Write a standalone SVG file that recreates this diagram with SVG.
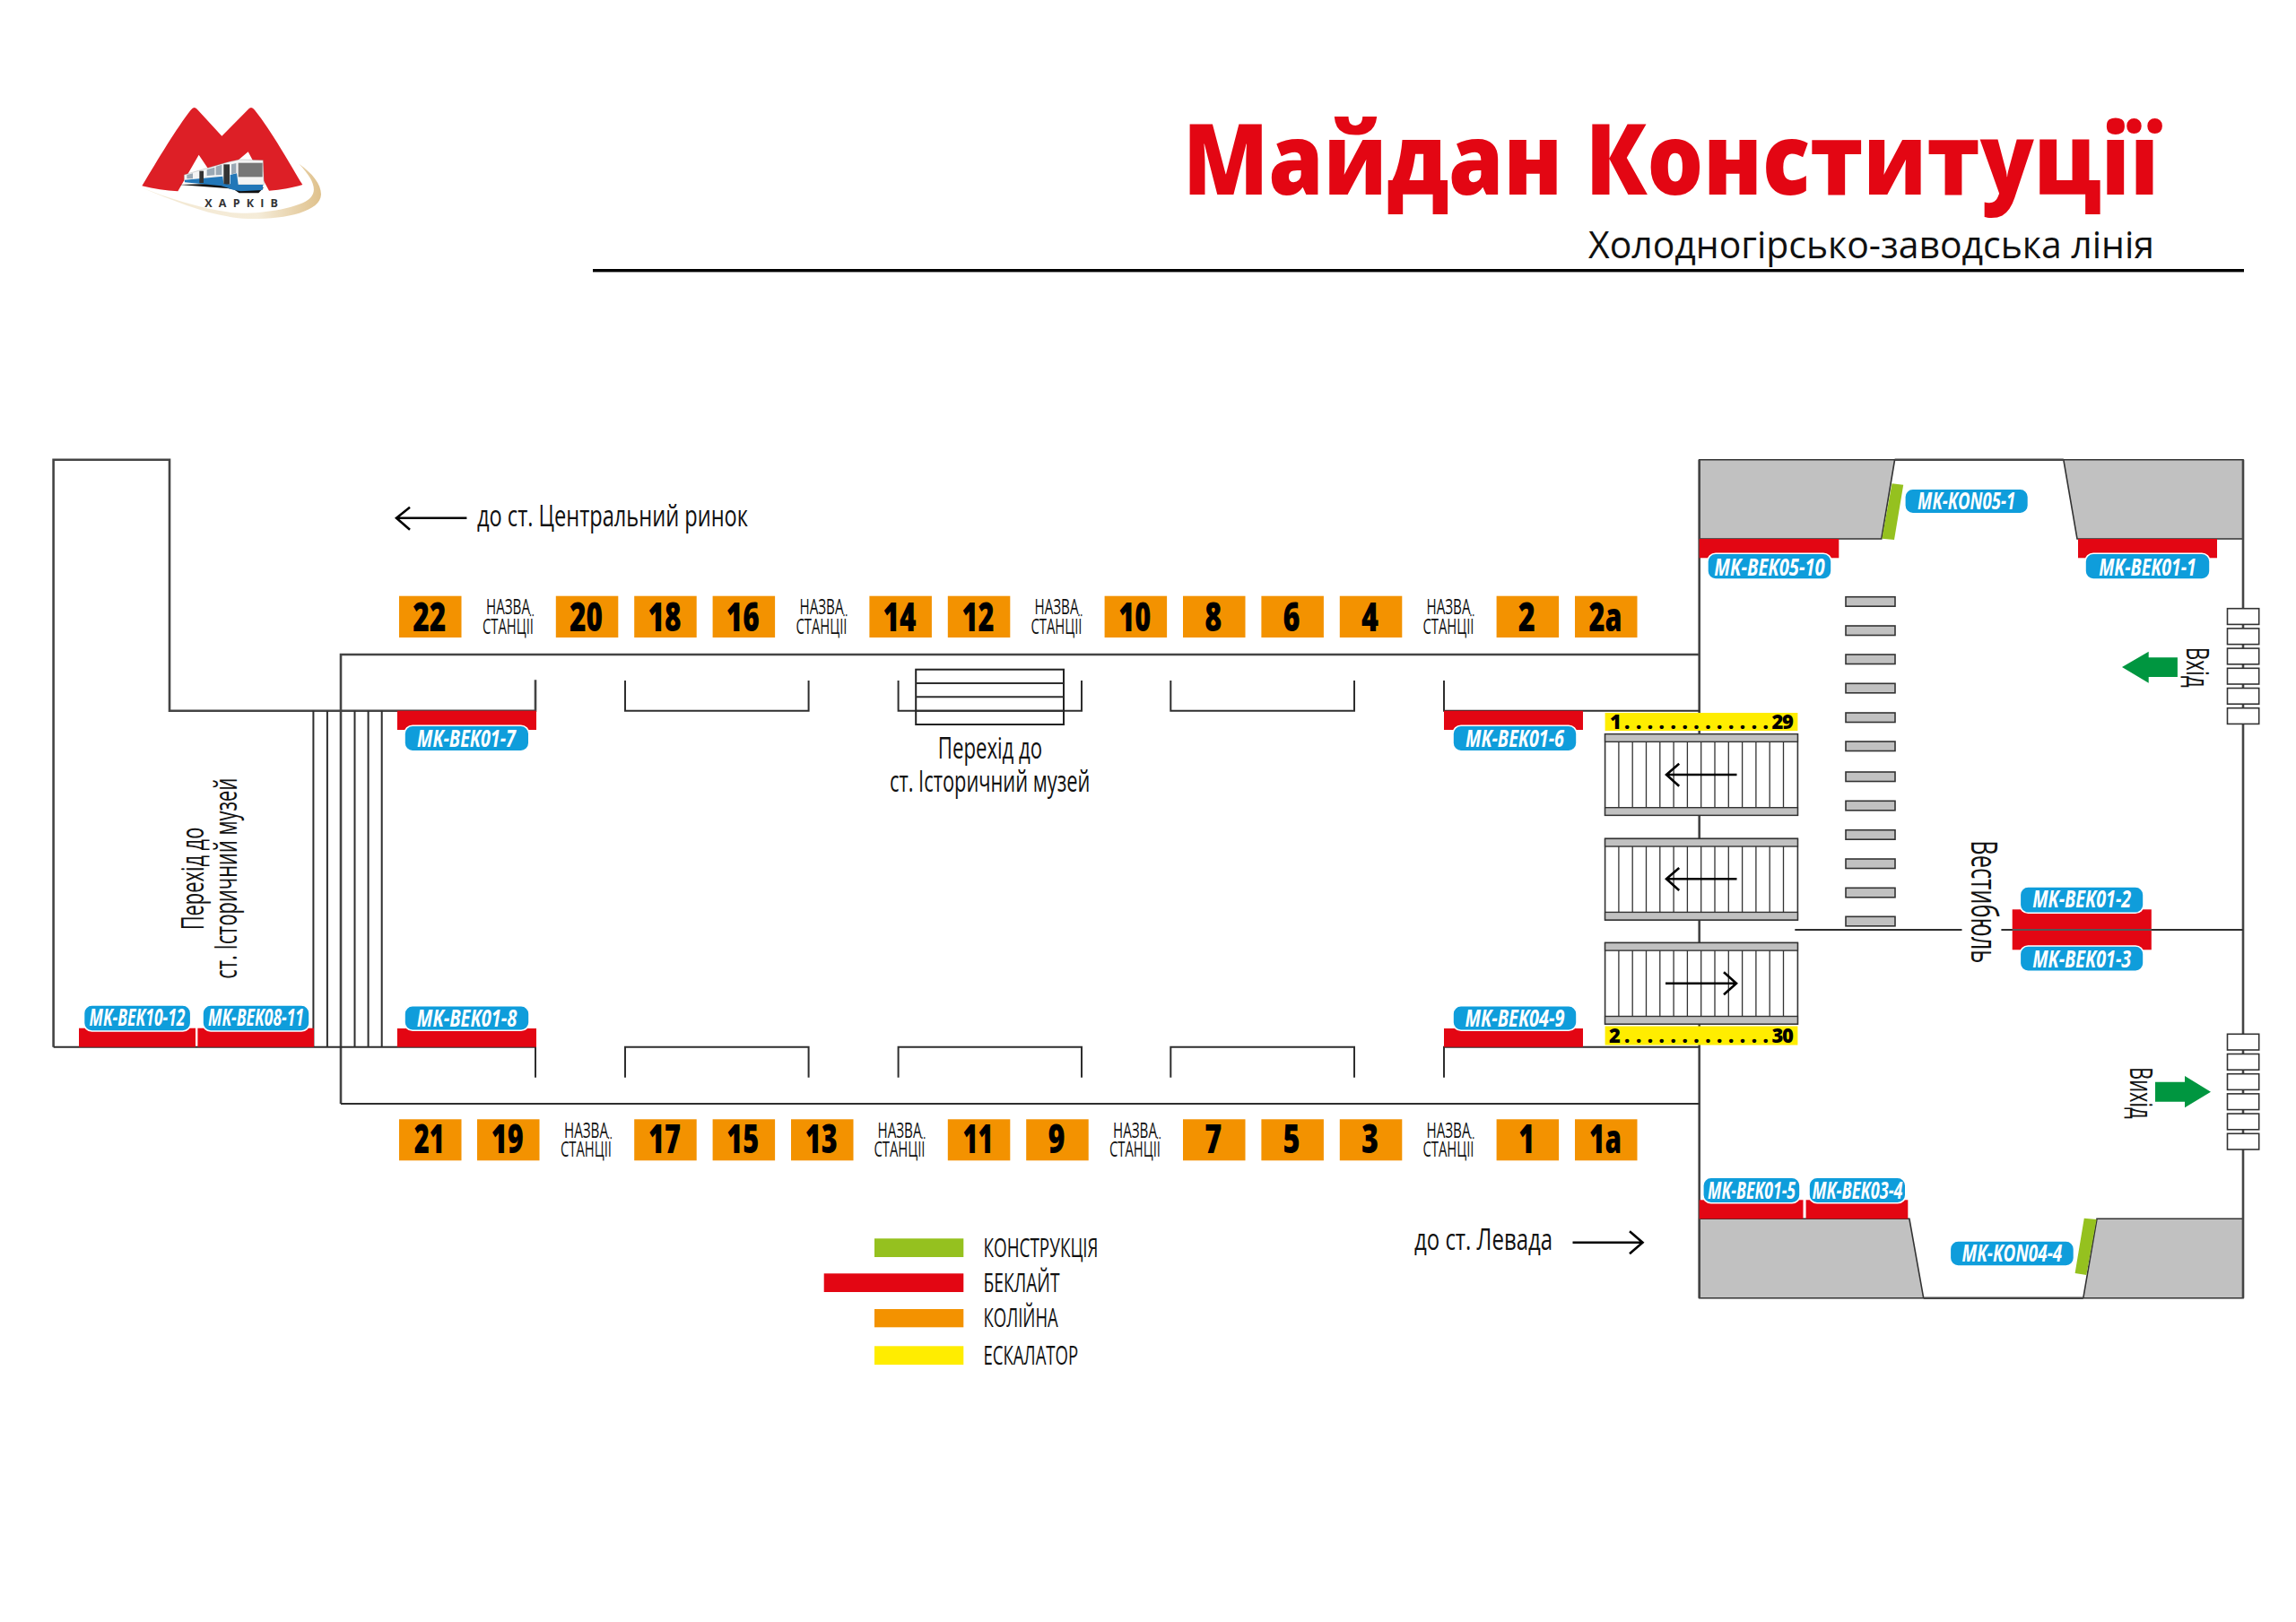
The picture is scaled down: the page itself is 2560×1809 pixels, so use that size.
<svg xmlns="http://www.w3.org/2000/svg" width="2560" height="1809" viewBox="0 0 2560 1809">
<style>
text{font-family:"Open Sans","Noto Sans","Liberation Sans",sans-serif;fill:#111}
.n{font-size:44px;font-weight:800;text-anchor:middle;fill:#000}
.s{font-size:23px;text-anchor:middle}
.b{font-size:26px;font-weight:700;font-style:italic;fill:#fff;text-anchor:middle}
.t{font-size:33px}
.v{font-size:35px}
.l{font-size:29px}
.e{font-size:22px;font-weight:800;fill:#000}
.w{fill:none;stroke:#2e2e2e;stroke-width:2}
.w2{fill:none;stroke:#444;stroke-width:2.6}
.a{fill:none;stroke:#000;stroke-width:2.6}
.o{fill:#f39200}.r{fill:#e30613}.y{fill:#ffed00}.g{fill:#95c11f}.ga{fill:#009640}
.gb{fill:#c1c1c1;stroke:#333;stroke-width:1.6}
.bd{fill:#0f9ddb;stroke:#fff;stroke-width:1.6}
.d{fill:#fff;stroke:#333;stroke-width:1.6}
</style>
<defs>
<linearGradient id="sw" x1="0" y1="0" x2="1" y2="0"><stop offset="0" stop-color="#f3e8d2"/><stop offset=".65" stop-color="#f5ecd9"/><stop offset="1" stop-color="#dfc18c"/></linearGradient>
<g id="esc">
<rect width="214.8" height="90.6" fill="#fff" stroke="#333" stroke-width="1.6"/>
<rect width="214.8" height="8.6" fill="#c1c1c1" stroke="#333" stroke-width="1.4"/>
<rect y="82" width="214.8" height="8.6" fill="#c1c1c1" stroke="#333" stroke-width="1.4"/>
<path d="M15.3 8.6V82M30.6 8.6V82M45.9 8.6V82M61.2 8.6V82M76.5 8.6V82M91.8 8.6V82M107.1 8.6V82M122.4 8.6V82M137.7 8.6V82M153 8.6V82M168.3 8.6V82M183.6 8.6V82M198.9 8.6V82" fill="none" stroke="#333" stroke-width="1.3"/>
</g>
<g id="doors">
<rect width="35.2" height="17.7" class="d"/><rect y="22.2" width="35.2" height="17.7" class="d"/><rect y="44.4" width="35.2" height="17.7" class="d"/><rect y="66.6" width="35.2" height="17.7" class="d"/><rect y="88.8" width="35.2" height="17.7" class="d"/><rect y="111" width="35.2" height="17.7" class="d"/>
</g>
<rect id="bar" width="55" height="10.5" class="gb"/>
</defs>
<rect width="2560" height="1809" fill="#fff"/>

<g id="logo">
<g transform="translate(100 80) scale(.33333)">
<path d="M170 386C300 440 420 488 530 492C650 494 772 470 774 410C774 375 745 340 700 308C745 355 764 395 738 422C700 460 550 478 480 472C380 460 260 422 170 386Z" fill="url(#sw)"/>
<path d="M175 382C230 290 290 190 338 128Q350 112 362 128L442 215L528 128Q540 112 552 128C610 200 670 310 712 378C680 388 640 395 600 398L530 268L480 310L400 330L365 278L295 400C255 398 215 392 175 382Z" fill="#dd1f26"/>
<path d="M298 378L480 392L500 406L565 406L582 388L500 372Z" fill="#111"/>
<path d="M316 345L460 303L500 294L580 296L583 378L497 378L316 366Z" fill="#f4f4f4" stroke="#888" stroke-width="1"/>
<path d="M318 362L445 350L448 375L470 378V345L492 340L497 378L580 378L578 396L505 400L480 395L440 382L318 370Z" fill="#2277b8"/>
<rect x="497" y="305" width="81" height="47" fill="#777"/>
<path d="M325 345L345 340V358L325 358ZM392 327L418 320V346L392 348ZM422 317L442 311V345L422 346ZM474 310L490 306V340L474 343Z" fill="#9aa8b4"/>
<rect x="448" y="310" width="20" height="65" fill="#333"/>
<rect x="367" y="332" width="14" height="40" fill="#333"/>
</g>
<text x="228.3" y="231" font-size="12.5" font-weight="700" textLength="81.7" style="fill:#333">ХАРКІВ</text>
</g>

<g id="title">
<text x="1319" y="216.7" font-size="110" font-weight="800" textLength="1088" lengthAdjust="spacingAndGlyphs" style="fill:#e30613">Майдан Конституції</text>
<text x="1771" y="288" font-size="42" textLength="631" lengthAdjust="spacingAndGlyphs">Холодногірсько-заводська лінія</text>
<rect x="661" y="300" width="1841" height="3.4" fill="#000"/>
</g>

<g id="vestibule-blocks">
<path class="gb" d="M1894.7 512.7H2112.6L2097.8 601H1894.7Z"/>
<path class="gb" d="M2300.8 512.7H2501V601H2316Z"/>
<path class="gb" d="M1894.7 1359.3H2128.9L2144.7 1447.7H1894.7Z"/>
<path class="gb" d="M2338 1359.3H2501V1447.7H2322.8Z"/>
</g>

<g id="connectors">
<path class="w2" d="M2112.6 512.7H2300.8M2144.7 1447.7H2322.8M1894.7 512.7V1447.7M2501 512.7V1447.7"/>
<path class="w2" d="M59.6 1167.7V512.7H189V792.7H597V758.3"/>
<path class="w2" d="M380 1231V730H1894.7"/>
<path class="w" d="M380 1231H1894.7"/>
<path class="w" d="M59.6 1167.7H597V1201.7"/>
<path class="w" d="M349.4 792.7V1167.7M364.9 792.7V1167.7M395.5 792.7V1167.7M410.6 792.7V1167.7M425.7 792.7V1167.7"/>
<path class="w" d="M697 759V792.7H901.6V759M1001.6 759V792.7H1206V759M1305.3 759V792.7H1510V759M1610 759V792.7H1894.7"/>
<path class="w" d="M697 1201.7V1167.7H901.6V1201.7M1001.6 1201.7V1167.7H1206V1201.7M1305.3 1201.7V1167.7H1510V1201.7M1610 1201.7V1167.7H1894.7"/>
<path class="w" d="M2001.3 1037H2187.5M2231.4 1037H2501"/>
</g>

<g id="bridge">
<rect x="1021.2" y="746.7" width="164.8" height="61.3" fill="none" stroke="#222" stroke-width="2"/>
<path class="w" d="M1021.2 762H1186M1021.2 777.3H1186M1021.2 792.7H1186"/>
</g>

<g id="stairs"><use href="#bar" x="2058" y="665.7"/><use href="#bar" x="2058" y="698"/><use href="#bar" x="2058" y="730"/><use href="#bar" x="2058" y="762.3"/><use href="#bar" x="2058" y="795"/><use href="#bar" x="2058" y="827"/><use href="#bar" x="2058" y="861"/><use href="#bar" x="2058" y="893.3"/><use href="#bar" x="2058" y="925.7"/><use href="#bar" x="2058" y="958"/><use href="#bar" x="2058" y="990.3"/><use href="#bar" x="2058" y="1022.3"/></g>

<g id="escalators">
<use href="#esc" x="1789.6" y="818.7"/>
<use href="#esc" x="1789.6" y="935.4"/>
<use href="#esc" x="1789.6" y="1051.5"/>
<path class="a" d="M1936.5 864H1858M1872.2 851.7L1858 864L1872.2 876.7"/>
<path class="a" d="M1936.5 980.3H1858M1872.2 968L1858 980.3L1872.2 993"/>
<path class="a" d="M1857 1096.7H1936M1922 1084.3L1936 1096.7L1922 1109.3"/>
<rect class="y" x="1789.6" y="795" width="214.8" height="20"/>
<rect class="y" x="1789.6" y="1144.5" width="214.8" height="21"/>
<text class="e" y="812.7" x="1795 1811 1823.9 1836.8 1849.6 1862.5 1875.4 1888.3 1901.2 1914 1926.9 1939.8 1952.7 1965.6 1975.5 1987">1.............29</text>
<text class="e" y="1162.7" x="1794 1811 1823.9 1836.8 1849.6 1862.5 1875.4 1888.3 1901.2 1914 1926.9 1939.8 1952.7 1965.6 1975.5 1987">2.............30</text>
</g>

<g id="doors-in"><use href="#doors" x="2483.5" y="678.7"/></g>
<g id="doors-out"><use href="#doors" x="2483.5" y="1153.3"/></g>

<g id="arrow-in"><path class="ga" d="M2366 744L2395.7 726.7V733.3H2427.9V755H2395.7V761.7Z"/><text transform="translate(2437.5 721.7) rotate(90)" font-size="35" textLength="45" lengthAdjust="spacingAndGlyphs">Вхід</text></g>
<g id="arrow-out"><path class="ga" d="M2465 1217.7L2436 1200V1206.7H2403V1228.7H2436V1235.3Z"/><text transform="translate(2375 1190) rotate(90)" font-size="35" textLength="57.7" lengthAdjust="spacingAndGlyphs">Вихід</text></g>

<text id="vestibule-label" transform="translate(2198 937.3) rotate(90)" font-size="41" textLength="137" lengthAdjust="spacingAndGlyphs">Вестибюль</text>

<g id="dir-left"><path class="a" d="M520.4 577.7H442M457 565.7L442 577.7L457 590.7"/><text class="t" x="532" y="587" textLength="302" lengthAdjust="spacingAndGlyphs">до ст. Центральний ринок</text></g>
<g id="dir-right"><text class="t" x="1577" y="1394" textLength="154" lengthAdjust="spacingAndGlyphs">до ст. Левада</text><path class="a" d="M1753.5 1385.7H1831.5M1817 1373.3L1831.5 1385.7L1817 1398.3"/></g>

<g id="passage-h"><text class="t" x="1104" y="846" text-anchor="middle" textLength="116.4" lengthAdjust="spacingAndGlyphs">Перехід до</text><text class="t" x="1103.7" y="882.7" text-anchor="middle" textLength="223.5" lengthAdjust="spacingAndGlyphs">ст. Історичний музей</text></g>
<g id="passage-v"><text class="v" transform="translate(227 1037.3) rotate(-90)" textLength="114.6" lengthAdjust="spacingAndGlyphs">Перехід до</text><text class="v" transform="translate(263.7 1091.7) rotate(-90)" textLength="224" lengthAdjust="spacingAndGlyphs">ст. Історичний музей</text></g>

<g id="track-top">
<g id="t22"><rect class="o" x="445" y="664.7" width="69.5" height="46.3"/><text class="n" x="478.7" y="704" textLength="37" lengthAdjust="spacingAndGlyphs">22</text></g>
<g id="ts1"><text class="s" x="566.5" y="685" textLength="49" lengthAdjust="spacingAndGlyphs">НАЗВА</text><text class="s" x="566.5" y="706.7" textLength="57" lengthAdjust="spacingAndGlyphs">СТАНЦІЇ</text></g>
<g id="t20"><rect class="o" x="619.8" y="664.7" width="69.5" height="46.3"/><text class="n" x="653.5" y="704" textLength="37" lengthAdjust="spacingAndGlyphs">20</text></g>
<g id="t18"><rect class="o" x="707.2" y="664.7" width="69.5" height="46.3"/><text class="n" x="741" y="704" textLength="37" lengthAdjust="spacingAndGlyphs">18</text></g>
<g id="t16"><rect class="o" x="794.6" y="664.7" width="69.5" height="46.3"/><text class="n" x="828.3" y="704" textLength="37" lengthAdjust="spacingAndGlyphs">16</text></g>
<g id="ts2"><text class="s" x="916" y="685" textLength="49" lengthAdjust="spacingAndGlyphs">НАЗВА</text><text class="s" x="916" y="706.7" textLength="57" lengthAdjust="spacingAndGlyphs">СТАНЦІЇ</text></g>
<g id="t14"><rect class="o" x="969.4" y="664.7" width="69.5" height="46.3"/><text class="n" x="1003" y="704" textLength="37" lengthAdjust="spacingAndGlyphs">14</text></g>
<g id="t12"><rect class="o" x="1056.8" y="664.7" width="69.5" height="46.3"/><text class="n" x="1090.5" y="704" textLength="36" lengthAdjust="spacingAndGlyphs">12</text></g>
<g id="ts3"><text class="s" x="1178" y="685" textLength="49" lengthAdjust="spacingAndGlyphs">НАЗВА</text><text class="s" x="1178" y="706.7" textLength="57" lengthAdjust="spacingAndGlyphs">СТАНЦІЇ</text></g>
<g id="t10"><rect class="o" x="1231.6" y="664.7" width="69.5" height="46.3"/><text class="n" x="1265.3" y="704" textLength="36" lengthAdjust="spacingAndGlyphs">10</text></g>
<g id="t8"><rect class="o" x="1319" y="664.7" width="69.5" height="46.3"/><text class="n" x="1352.7" y="704" textLength="19" lengthAdjust="spacingAndGlyphs">8</text></g>
<g id="t6"><rect class="o" x="1406.4" y="664.7" width="69.5" height="46.3"/><text class="n" x="1440" y="704" textLength="19" lengthAdjust="spacingAndGlyphs">6</text></g>
<g id="t4"><rect class="o" x="1493.8" y="664.7" width="69.5" height="46.3"/><text class="n" x="1527.5" y="704" textLength="19" lengthAdjust="spacingAndGlyphs">4</text></g>
<g id="ts4"><text class="s" x="1615" y="685" textLength="49" lengthAdjust="spacingAndGlyphs">НАЗВА</text><text class="s" x="1615" y="706.7" textLength="57" lengthAdjust="spacingAndGlyphs">СТАНЦІЇ</text></g>
<g id="t2"><rect class="o" x="1668.6" y="664.7" width="69.5" height="46.3"/><text class="n" x="1702.3" y="704" textLength="19" lengthAdjust="spacingAndGlyphs">2</text></g>
<g id="t2a"><rect class="o" x="1756" y="664.7" width="69.5" height="46.3"/><text class="n" x="1790" y="704" textLength="37" lengthAdjust="spacingAndGlyphs">2а</text></g>
</g>

<g id="track-bottom">
<g id="t21"><rect class="o" x="445" y="1248.3" width="69.5" height="46"/><text class="n" x="478.7" y="1286" textLength="34" lengthAdjust="spacingAndGlyphs">21</text></g>
<g id="t19"><rect class="o" x="532" y="1248.3" width="69.5" height="46"/><text class="n" x="565.7" y="1286" textLength="36" lengthAdjust="spacingAndGlyphs">19</text></g>
<g id="bs1"><text class="s" x="653.5" y="1268.5" textLength="49" lengthAdjust="spacingAndGlyphs">НАЗВА</text><text class="s" x="653.5" y="1290" textLength="57" lengthAdjust="spacingAndGlyphs">СТАНЦІЇ</text></g>
<g id="t17"><rect class="o" x="707.2" y="1248.3" width="69.5" height="46"/><text class="n" x="741" y="1286" textLength="36" lengthAdjust="spacingAndGlyphs">17</text></g>
<g id="t15"><rect class="o" x="794.6" y="1248.3" width="69.5" height="46"/><text class="n" x="828.3" y="1286" textLength="36" lengthAdjust="spacingAndGlyphs">15</text></g>
<g id="t13"><rect class="o" x="882" y="1248.3" width="69.5" height="46"/><text class="n" x="915.7" y="1286" textLength="36" lengthAdjust="spacingAndGlyphs">13</text></g>
<g id="bs2"><text class="s" x="1003" y="1268.5" textLength="49" lengthAdjust="spacingAndGlyphs">НАЗВА</text><text class="s" x="1003" y="1290" textLength="57" lengthAdjust="spacingAndGlyphs">СТАНЦІЇ</text></g>
<g id="t11"><rect class="o" x="1056.8" y="1248.3" width="69.5" height="46"/><text class="n" x="1090.5" y="1286" textLength="34" lengthAdjust="spacingAndGlyphs">11</text></g>
<g id="t9"><rect class="o" x="1144.2" y="1248.3" width="69.5" height="46"/><text class="n" x="1178" y="1286" textLength="19" lengthAdjust="spacingAndGlyphs">9</text></g>
<g id="bs3"><text class="s" x="1265.5" y="1268.5" textLength="49" lengthAdjust="spacingAndGlyphs">НАЗВА</text><text class="s" x="1265.5" y="1290" textLength="57" lengthAdjust="spacingAndGlyphs">СТАНЦІЇ</text></g>
<g id="t7"><rect class="o" x="1319" y="1248.3" width="69.5" height="46"/><text class="n" x="1352.7" y="1286" textLength="19" lengthAdjust="spacingAndGlyphs">7</text></g>
<g id="t5"><rect class="o" x="1406.4" y="1248.3" width="69.5" height="46"/><text class="n" x="1440" y="1286" textLength="19" lengthAdjust="spacingAndGlyphs">5</text></g>
<g id="t3"><rect class="o" x="1493.8" y="1248.3" width="69.5" height="46"/><text class="n" x="1527.5" y="1286" textLength="19" lengthAdjust="spacingAndGlyphs">3</text></g>
<g id="bs4"><text class="s" x="1615" y="1268.5" textLength="49" lengthAdjust="spacingAndGlyphs">НАЗВА</text><text class="s" x="1615" y="1290" textLength="57" lengthAdjust="spacingAndGlyphs">СТАНЦІЇ</text></g>
<g id="t1"><rect class="o" x="1668.6" y="1248.3" width="69.5" height="46"/><text class="n" x="1702.3" y="1286" textLength="18" lengthAdjust="spacingAndGlyphs">1</text></g>
<g id="t1a"><rect class="o" x="1756" y="1248.3" width="69.5" height="46"/><text class="n" x="1790" y="1286" textLength="36" lengthAdjust="spacingAndGlyphs">1а</text></g>
</g>

<g id="MK-KON05-1"><path class="g" d="M2109.5 539.3L2122.2 540.7L2112 602L2098.3 600.7Z"/><rect class="bd" x="2123.8" y="545.3" width="137.7" height="27.5" rx="9"/><text class="b" x="2192.6" y="568.3" textLength="109" lengthAdjust="spacingAndGlyphs">MK-KON05-1</text></g>
<g id="MK-KON04-4"><path class="g" d="M2323.8 1358.7L2337.6 1360L2326.3 1422L2313.6 1420Z"/><rect class="bd" x="2174.3" y="1384" width="138.2" height="28" rx="9"/><text class="b" x="2243.4" y="1407.3" textLength="111.7" lengthAdjust="spacingAndGlyphs">MK-KON04-4</text></g>
<g id="MK-BEK05-10"><rect class="r" x="1894.7" y="601" width="155.6" height="21.3"/><rect class="bd" x="1903.9" y="617.3" width="138.1" height="28.7" rx="9"/><text class="b" x="1973" y="641.7" textLength="123.5" lengthAdjust="spacingAndGlyphs">MK-BEK05-10</text></g>
<g id="MK-BEK01-1"><rect class="r" x="2317" y="601" width="155" height="21.3"/><rect class="bd" x="2325" y="617.3" width="139" height="28.7" rx="9"/><text class="b" x="2394.5" y="641.7" textLength="108.7" lengthAdjust="spacingAndGlyphs">MK-BEK01-1</text></g>
<g id="MK-BEK01-23"><rect class="r" x="2243.7" y="1014.3" width="155.1" height="45"/><path class="w" d="M2243.7 1037H2398.8" style="stroke:#555"/><rect class="bd" x="2252.3" y="989" width="137.7" height="29.3" rx="9"/><text class="b" x="2321.2" y="1012.3" textLength="110" lengthAdjust="spacingAndGlyphs">MK-BEK01-2</text><rect class="bd" x="2252.3" y="1055" width="137.7" height="28.3" rx="9"/><text class="b" x="2321.2" y="1079" textLength="110" lengthAdjust="spacingAndGlyphs">MK-BEK01-3</text></g>
<g id="MK-BEK01-5"><rect class="r" x="1894.7" y="1338.3" width="115.8" height="21"/><rect class="bd" x="1898.8" y="1313.3" width="108.2" height="28.4" rx="9"/><text class="b" x="1953" y="1336.7" textLength="98" lengthAdjust="spacingAndGlyphs">MK-BEK01-5</text></g>
<g id="MK-BEK03-4"><rect class="r" x="2013.6" y="1338.3" width="113.7" height="21"/><rect class="bd" x="2017" y="1313.3" width="107.8" height="28.4" rx="9"/><text class="b" x="2071" y="1336.7" textLength="101" lengthAdjust="spacingAndGlyphs">MK-BEK03-4</text></g>
<g id="MK-BEK01-7"><rect class="r" x="442.9" y="792.7" width="155.1" height="21.3"/><rect class="bd" x="451" y="809.3" width="138.8" height="28.4" rx="9"/><text class="b" x="520" y="833" textLength="110" lengthAdjust="spacingAndGlyphs">MK-BEK01-7</text></g>
<g id="MK-BEK01-6"><rect class="r" x="1610" y="792.7" width="155" height="21.3"/><rect class="bd" x="1620" y="809.3" width="138" height="28.4" rx="9"/><text class="b" x="1689" y="833" textLength="110" lengthAdjust="spacingAndGlyphs">MK-BEK01-6</text></g>
<g id="MK-BEK01-8"><rect class="r" x="442.9" y="1147" width="155.1" height="20.7"/><rect class="bd" x="451" y="1121.7" width="139" height="27.6" rx="9"/><text class="b" x="520.5" y="1144.7" textLength="111.4" lengthAdjust="spacingAndGlyphs">MK-BEK01-8</text></g>
<g id="MK-BEK04-9"><rect class="r" x="1610" y="1147" width="155" height="20.7"/><rect class="bd" x="1620" y="1121.7" width="138" height="27.6" rx="9"/><text class="b" x="1689" y="1144.7" textLength="111" lengthAdjust="spacingAndGlyphs">MK-BEK04-9</text></g>
<g id="MK-BEK10-12"><rect class="r" x="88" y="1146.7" width="130" height="21"/><rect class="bd" x="93.5" y="1121" width="119.2" height="29" rx="9"/><text class="b" x="153" y="1144.3" textLength="107" lengthAdjust="spacingAndGlyphs">MK-BEK10-12</text></g>
<g id="MK-BEK08-11"><rect class="r" x="220.4" y="1146.7" width="129.6" height="21"/><rect class="bd" x="226" y="1121" width="119" height="29" rx="9"/><text class="b" x="285.5" y="1144.3" textLength="107" lengthAdjust="spacingAndGlyphs">MK-BEK08-11</text></g>

<g id="legend">
<rect class="g" x="975" y="1381.3" width="99.3" height="20.7"/><text class="l" x="1096.5" y="1402" textLength="128" lengthAdjust="spacingAndGlyphs">КОНСТРУКЦІЯ</text>
<rect class="r" x="918.7" y="1420.3" width="155.6" height="20.7"/><text class="l" x="1096.5" y="1441" textLength="85" lengthAdjust="spacingAndGlyphs">БЕКЛАЙТ</text>
<rect class="o" x="975" y="1460" width="99.3" height="20.3"/><text class="l" x="1096.5" y="1480.3" textLength="83.3" lengthAdjust="spacingAndGlyphs">КОЛІЙНА</text>
<rect class="y" x="975" y="1501.3" width="99.3" height="20.7"/><text class="l" x="1096.5" y="1521.7" textLength="105.7" lengthAdjust="spacingAndGlyphs">ЕСКАЛАТОР</text>
</g>
</svg>
